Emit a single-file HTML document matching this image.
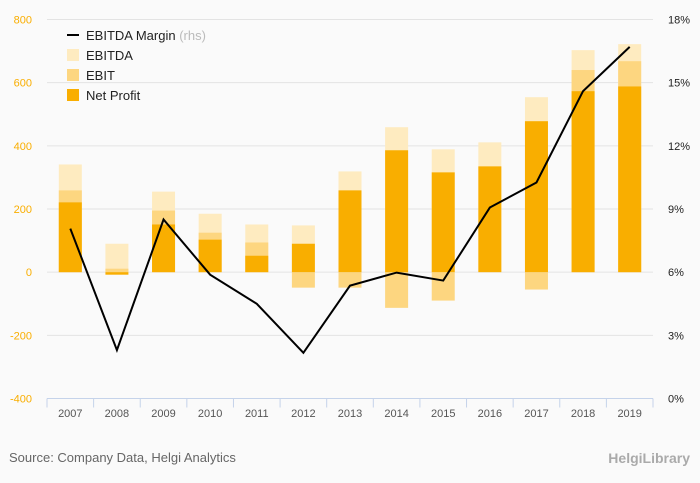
<!DOCTYPE html>
<html><head><meta charset="utf-8"><style>
body{margin:0;background:#fafafa;font-family:"Liberation Sans",sans-serif;}
#wrap{position:relative;width:700px;height:483px;overflow:hidden;background:#fafafa}
</style></head><body>
<div id="wrap">
<svg id="chart" width="700" height="483"></svg>
<div style="position:absolute;left:9px;top:450px;font-size:13px;color:#666">Source: Company Data, Helgi Analytics</div>
<div style="position:absolute;right:10px;top:450px;font-size:14px;color:#aaa;font-weight:bold">HelgiLibrary</div>
</div>
<script>
const categories=["2007","2008","2009","2010","2011","2012","2013","2014","2015","2016","2017","2018","2019"];
const ebitda=[341,90,255,185,151,148,319,459,389,411,554,703,722];
const ebit=[259,11,195,125,94,-49,-49,-113,-90,0,-55,640,668];
const netProfit=[221,-8,151,103,52,90,259,386,316,335,478,573,588];
const margin=[8.07,2.3,8.5,5.88,4.5,2.17,5.36,5.98,5.6,9.07,10.26,14.6,16.7];
const leftTicks=[-400,-200,0,200,400,600,800];
const rightTicks=[0,3,6,9,12,15,18];
const NS="http://www.w3.org/2000/svg";
const svg=document.getElementById('chart');
const X0=47,X1=653,Y0=19.5,Y1=398.5;
const bw=(X1-X0)/categories.length;
const yL=v=>Y1-(v+400)/1200*(Y1-Y0);
const yR=v=>Y1-v/18*(Y1-Y0);
const xC=i=>X0+bw*(i+0.5);
function mk(t,a){const e=document.createElementNS(NS,t);for(const k in a)e.setAttribute(k,a[k]);svg.appendChild(e);return e;}
leftTicks.forEach((t,i)=>{
 const g=mk('line',{x1:X0,x2:X1,y1:yL(t),y2:yL(t),stroke:'#e3e3e3','stroke-width':1});
 
 
 const l=mk('text',{x:32,y:yL(t)+4,'text-anchor':'end','font-size':11,fill:'#f9ae00'});l.textContent=t;
 
 
});
rightTicks.forEach(t=>{
 const l=mk('text',{x:668,y:yR(t)+4,'font-size':11,fill:'#222'});l.textContent=t+'%';
 
 
});
const ax=mk('line',{x1:X0,x2:X1,y1:Y1,y2:Y1,stroke:'#c5d3ea','stroke-width':1});


for(let i=0;i<=categories.length;i++){const t=mk('line',{x1:X0+bw*i,x2:X0+bw*i,y1:Y1,y2:Y1+9,stroke:'#c5d3ea'});
 
 }
function bar(i,v,c,n){const y0=yL(0),y=yL(v);const r=mk('rect',{x:xC(i)-11.5,y:Math.min(y,y0),width:23,height:Math.abs(y-y0),fill:c});
 
 }
categories.forEach((c,i)=>{
 bar(i,ebitda[i],'#feebc0','bar-ebitda-'+c);
 bar(i,ebit[i],'#fdd680','bar-ebit-'+c);
 bar(i,netProfit[i],'#f9ae00','bar-net-profit-'+c);
 const l=mk('text',{x:xC(i),y:417,'text-anchor':'middle','font-size':11,fill:'#555'});l.textContent=c;
 
 
});
const ln=mk('polyline',{points:margin.map((m,i)=>xC(i)+','+yR(m)).join(' '),fill:'none',stroke:'#000','stroke-width':2});


const leg=[['line','#000','EBITDA Margin'],['rect','#feebc0','EBITDA'],['rect','#fdd680','EBIT'],['rect','#f9ae00','Net Profit']];
leg.forEach((L,i)=>{const y=35+i*20;
 if(L[0]=='line'){const s=mk('line',{x1:67,x2:79,y1:y,y2:y,stroke:'#000','stroke-width':2});}
 else{const s=mk('rect',{x:67,y:y-6,width:12,height:12,fill:L[1]});}
 const t=mk('text',{x:86,y:y+5,'font-size':13,fill:'#222'});t.textContent=L[2];
 
 
 if(i==0){const r=document.createElementNS(NS,'tspan');r.setAttribute('fill','#bbb');r.textContent=' (rhs)';t.appendChild(r);}
});
</script>
</body></html>
